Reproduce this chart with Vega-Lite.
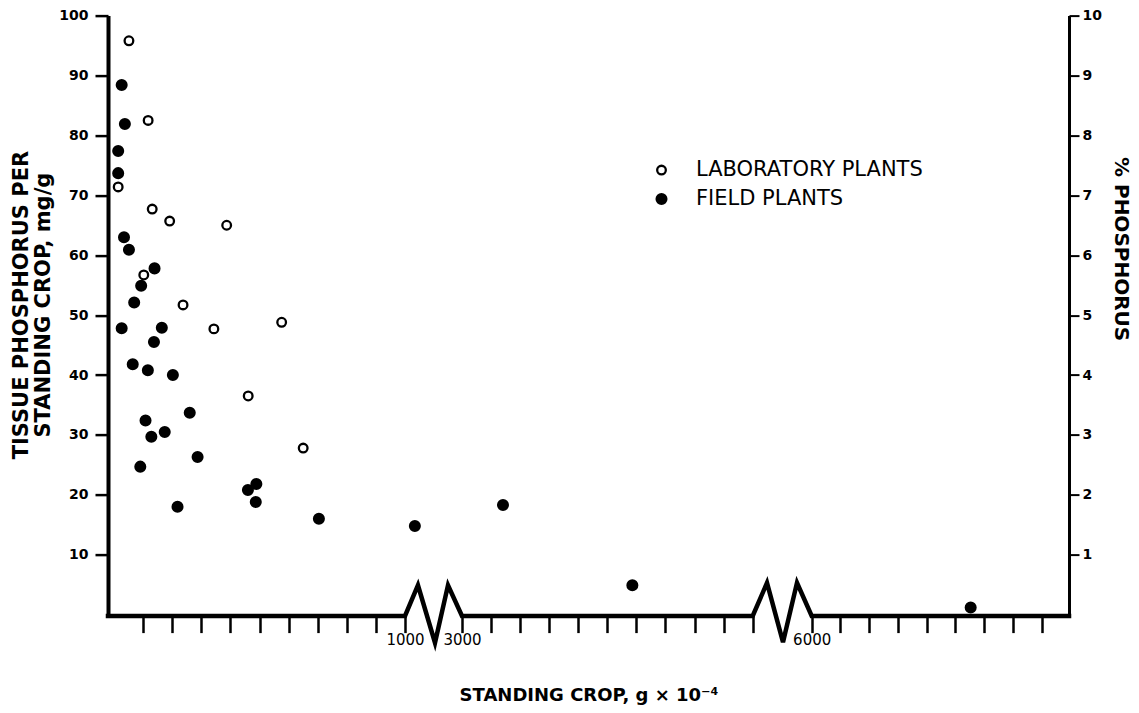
{
  "$schema": "https://vega.github.io/schema/vega-lite/v6.json",
  "width": 961,
  "height": 599,
  "autosize": {"type": "none"},
  "padding": {"left": 108, "top": 15.6, "right": 70, "bottom": 98.4},
  "background": "white",
  "config": {"view": {"stroke": null}, "font": "DejaVu Sans"},
  "datasets": {
    "plants": [
      {"type": "LABORATORY PLANTS", "crop": 51, "p": 95.8},
      {"type": "LABORATORY PLANTS", "crop": 117, "p": 82.5},
      {"type": "LABORATORY PLANTS", "crop": 14, "p": 71.4},
      {"type": "LABORATORY PLANTS", "crop": 131, "p": 67.7},
      {"type": "LABORATORY PLANTS", "crop": 191, "p": 65.7},
      {"type": "LABORATORY PLANTS", "crop": 387, "p": 65.0},
      {"type": "LABORATORY PLANTS", "crop": 102, "p": 56.7},
      {"type": "LABORATORY PLANTS", "crop": 237, "p": 51.7},
      {"type": "LABORATORY PLANTS", "crop": 343, "p": 47.7},
      {"type": "LABORATORY PLANTS", "crop": 576, "p": 48.8},
      {"type": "LABORATORY PLANTS", "crop": 461, "p": 36.5},
      {"type": "LABORATORY PLANTS", "crop": 650, "p": 27.8},
      {"type": "FIELD PLANTS", "crop": 26, "p": 88.4},
      {"type": "FIELD PLANTS", "crop": 37, "p": 81.9},
      {"type": "FIELD PLANTS", "crop": 14, "p": 77.4},
      {"type": "FIELD PLANTS", "crop": 14, "p": 73.7},
      {"type": "FIELD PLANTS", "crop": 34, "p": 63.0},
      {"type": "FIELD PLANTS", "crop": 51, "p": 60.9},
      {"type": "FIELD PLANTS", "crop": 139, "p": 57.8},
      {"type": "FIELD PLANTS", "crop": 93, "p": 54.9},
      {"type": "FIELD PLANTS", "crop": 69, "p": 52.1},
      {"type": "FIELD PLANTS", "crop": 26, "p": 47.8},
      {"type": "FIELD PLANTS", "crop": 164, "p": 47.9},
      {"type": "FIELD PLANTS", "crop": 137, "p": 45.5},
      {"type": "FIELD PLANTS", "crop": 64, "p": 41.8},
      {"type": "FIELD PLANTS", "crop": 116, "p": 40.8},
      {"type": "FIELD PLANTS", "crop": 202, "p": 40.0},
      {"type": "FIELD PLANTS", "crop": 108, "p": 32.4},
      {"type": "FIELD PLANTS", "crop": 128, "p": 29.7},
      {"type": "FIELD PLANTS", "crop": 174, "p": 30.5},
      {"type": "FIELD PLANTS", "crop": 260, "p": 33.7},
      {"type": "FIELD PLANTS", "crop": 287, "p": 26.3},
      {"type": "FIELD PLANTS", "crop": 90, "p": 24.7},
      {"type": "FIELD PLANTS", "crop": 218, "p": 18.0},
      {"type": "FIELD PLANTS", "crop": 460, "p": 20.8},
      {"type": "FIELD PLANTS", "crop": 489, "p": 21.8},
      {"type": "FIELD PLANTS", "crop": 487, "p": 18.8},
      {"type": "FIELD PLANTS", "crop": 704, "p": 16.0},
      {"type": "FIELD PLANTS", "crop": 1034, "p": 14.8},
      {"type": "FIELD PLANTS", "crop": 3141, "p": 18.3},
      {"type": "FIELD PLANTS", "crop": 3586, "p": 4.9},
      {"type": "FIELD PLANTS", "crop": 6553, "p": 1.2}
    ],
    "baseline": [
      {"i": 0, "bx": -21, "by": -0.23},
      {"i": 1, "bx": 1000, "by": -0.23},
      {"i": 2, "bx": 1044.7, "by": 4.9},
      {"i": 3, "bx": 1761, "by": -4.7},
      {"i": 4, "bx": 2358, "by": 4.9},
      {"i": 5, "bx": 3000, "by": -0.23},
      {"i": 6, "bx": 4000, "by": -0.23},
      {"i": 7, "bx": 4485, "by": 5.3},
      {"i": 8, "bx": 5027, "by": -4.6},
      {"i": 9, "bx": 5502, "by": 5.3},
      {"i": 10, "bx": 6000, "by": -0.23},
      {"i": 11, "bx": 6895, "by": -0.23}
    ],
    "pct": [{"pct": 0}, {"pct": 10}]
  },
  "layer": [
    {
      "encoding": {
        "x": {"type": "quantitative",
          "scale": {"domain": [-21, 1000, 1050, 3000, 4000, 6000, 6895], "range": [0, 297, 311.5, 354, 644.7, 703.7, 961], "nice": false, "zero": false},
          "axis": {
            "orient": "bottom",
            "values": [100, 200, 300, 400, 500, 600, 700, 800, 900, 1000, 3000, 3100, 3200, 3300, 3400, 3500, 3600, 3700, 3800, 3900, 4000, 6000, 6100, 6200, 6300, 6400, 6500, 6600, 6700, 6800],
            "format": "d",
            "labelExpr": "(datum.value == 1000 || datum.value == 3000 || datum.value == 6000) ? datum.label : ''",
            "domain": false,
            "grid": false,
            "tickColor": "black",
            "tickWidth": 2.5,
            "tickSize": 18,
            "labelFont": "DejaVu Sans",
            "labelFontSize": 15,
            "labelColor": "black",
            "labelPadding": 0,
            "labelFlush": false,
            "labelOverlap": false,
            "title": "STANDING CROP, g × 10⁻⁴",
            "titleFont": "DejaVu Sans",
            "titleFontSize": 18,
            "titleFontWeight": "bold",
            "titleColor": "black",
            "titleY": 86,
            "titleBaseline": "alphabetic"
          }},
        "y": {"type": "quantitative",
          "scale": {"domain": [0, 100], "nice": false, "zero": false},
          "axis": {
            "orient": "left",
            "values": [10, 20, 30, 40, 50, 60, 70, 80, 90, 100],
            "grid": false,
            "domainColor": "black",
            "domainWidth": 4,
            "tickColor": "black",
            "tickWidth": 2.5,
            "tickSize": 13,
            "labelFont": "DejaVu Sans",
            "labelFontWeight": "bold",
            "labelFontSize": 14,
            "labelColor": "black",
            "labelPadding": 7,
            "title": ["TISSUE PHOSPHORUS PER", "STANDING CROP, mg/g"],
            "titleFont": "DejaVu Sans",
            "titleFontWeight": "bold",
            "titleFontSize": 21,
            "titleColor": "black",
            "titleAngle": -90,
            "titleX": -87,
            "titleY": 289,
            "titleAlign": "center",
            "titleBaseline": "middle",
            "titleLineHeight": 22
          }}
      },
      "layer": [
        {
          "data": {"name": "baseline"},
          "mark": {"type": "line", "color": "black", "strokeWidth": 4.5, "clip": false, "strokeJoin": "miter", "strokeCap": "square"},
          "encoding": {
            "x": {"field": "bx"},
            "y": {"field": "by"},
            "order": {"field": "i", "type": "quantitative"}
          }
        },
        {
          "data": {"name": "plants"},
          "mark": {"type": "point", "shape": "circle", "strokeWidth": 2.3, "opacity": 1, "clip": false},
          "encoding": {
            "x": {"field": "crop"},
            "y": {"field": "p"},
            "fill": {"field": "type", "type": "nominal",
              "scale": {"domain": ["LABORATORY PLANTS", "FIELD PLANTS"], "range": ["white", "black"]},
              "legend": {"title": null, "orient": "none", "legendX": 543, "legendY": 144, "labelFont": "DejaVu Sans", "labelFontSize": 21, "labelColor": "black", "labelOffset": 24, "rowPadding": 7, "symbolType": "circle", "symbolStrokeWidth": 2.3, "labelLimit": 400}},
            "stroke": {"field": "type", "type": "nominal",
              "scale": {"domain": ["LABORATORY PLANTS", "FIELD PLANTS"], "range": ["black", "black"]},
              "legend": {"title": null, "orient": "none", "legendX": 543, "legendY": 144, "labelFont": "DejaVu Sans", "labelFontSize": 21, "labelColor": "black", "labelOffset": 24, "rowPadding": 7, "symbolType": "circle", "symbolStrokeWidth": 2.3, "labelLimit": 400}},
            "size": {"field": "type", "type": "nominal",
              "scale": {"domain": ["LABORATORY PLANTS", "FIELD PLANTS"], "range": [75, 95]},
              "legend": {"title": null, "orient": "none", "legendX": 543, "legendY": 144, "labelFont": "DejaVu Sans", "labelFontSize": 21, "labelColor": "black", "labelOffset": 24, "rowPadding": 7, "symbolType": "circle", "symbolStrokeWidth": 2.3, "labelLimit": 400}}
          }
        }
      ]
    },
    {
      "data": {"name": "pct"},
      "mark": {"type": "rule", "opacity": 0},
      "encoding": {
        "y": {"field": "pct", "type": "quantitative",
          "scale": {"domain": [0, 10], "nice": false, "zero": false},
          "axis": {
            "orient": "right",
            "values": [1, 2, 3, 4, 5, 6, 7, 8, 9, 10],
            "grid": false,
            "domainColor": "black",
            "domainWidth": 3,
            "tickColor": "black",
            "tickWidth": 2,
            "tickSize": 10,
            "labelFont": "DejaVu Sans",
            "labelFontWeight": "bold",
            "labelFontSize": 14,
            "labelColor": "black",
            "labelPadding": 3,
            "title": "% PHOSPHORUS",
            "titleFont": "DejaVu Sans",
            "titleFontWeight": "bold",
            "titleFontSize": 20,
            "titleColor": "black",
            "titleAngle": 90,
            "titleX": 51,
            "titleY": 233,
            "titleAlign": "center",
            "titleBaseline": "middle"
          }}
      }
    }
  ],
  "resolve": {"scale": {"y": "independent"}}
}
